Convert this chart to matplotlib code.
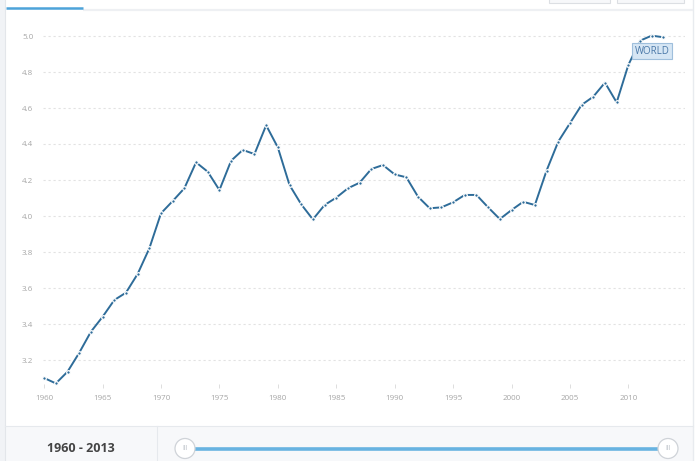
import matplotlib
matplotlib.use("Agg")
import matplotlib.pyplot as plt
from matplotlib.patches import Rectangle, Circle

plt.rcParams['font.family'] = ['Open Sans', 'DejaVu Sans']

years = list(range(1960, 2014))
values = [3.10, 3.07, 3.135, 3.24, 3.357, 3.44, 3.533, 3.574, 3.678, 3.82,
          4.015, 4.083, 4.154, 4.298, 4.246, 4.144, 4.307, 4.367, 4.344, 4.504,
          4.381, 4.172, 4.065, 3.981, 4.061, 4.102, 4.154, 4.185, 4.261, 4.283,
          4.231, 4.215, 4.107, 4.043, 4.048, 4.076, 4.117, 4.117, 4.048, 3.983,
          4.033, 4.079, 4.061, 4.252, 4.413, 4.515, 4.617, 4.663, 4.741, 4.631,
          4.839, 4.974, 5.002, 4.993]
yticks = [3.2, 3.4, 3.6, 3.8, 4.0, 4.2, 4.4, 4.6, 4.8, 5.0]
xticks = [1960, 1965, 1970, 1975, 1980, 1985, 1990, 1995, 2000, 2005, 2010]
series_label = "WORLD"
range_label = "1960 - 2013"

W, H = 699, 461
fig = plt.figure(figsize=(W / 100, H / 100), dpi=100)
fig.patch.set_facecolor('white')

# background decoration layer in pixel coordinates
bg = fig.add_axes([0, 0, 1, 1], zorder=0)
bg.set_xlim(0, W)
bg.set_ylim(H, 0)
bg.axis('off')
bg.add_patch(Rectangle((0, 0), 5, H, color='#f1f3f6', lw=0))
bg.plot([5, 5], [0, H], color='#e3e6ea', lw=0.8)
bg.plot([693, 693], [0, H], color='#e8ebef', lw=1.0)
bg.plot([83, 693], [10, 10], color='#eef0f3', lw=1.6, solid_capstyle='butt')
bg.plot([6, 83], [8.5, 8.5], color='#4da3d9', lw=1.8, solid_capstyle='butt')
for x0, x1 in [(549, 610), (617, 684)]:
    bg.add_patch(Rectangle((x0, -5), x1 - x0, 8, facecolor='#f7f8fa',
                           edgecolor='#dcdfe3', lw=0.8))
bg.add_patch(Rectangle((5, 426), 688, 40, facecolor='#f7f8fa', lw=0))
bg.plot([5, 693], [426, 426], color='#e6e9ed', lw=0.8)
bg.plot([157, 157], [426, H], color='#e6e9ed', lw=0.8)
bg.text(81, 448, range_label, ha='center', va='center', fontsize=9,
        fontweight='bold', color='#444444')
bg.plot([190, 664], [448.5, 448.5], color='#68b3e1', lw=2.6, solid_capstyle='butt')
for cx in [185, 668]:
    bg.add_patch(Circle((cx, 448.5), 10, facecolor='white', edgecolor='#cfd3d8', lw=0.9, zorder=5))
    bg.text(cx, 448.5, 'III', ha='center', va='center', fontsize=5,
            color='#bfc4ca', zorder=6)

# main chart axes
left, right, top, bottom = 43, 685, 28, 384
ax = fig.add_axes([left / W, 1 - bottom / H, (right - left) / W, (bottom - top) / H], zorder=2)
ax.patch.set_alpha(0)
ax.set_xlim(1959.9, 2014.85)
ax.set_ylim(5.0 - (bottom - 36) / 180.0, 5.0 + (36 - top) / 180.0)

ax.plot(years, values, color='#2e6c99', lw=1.4, marker='o', ms=2.6,
        mfc='#2e6c99', mec='white', mew=0.9, zorder=3, clip_on=False)

ax.set_yticks(yticks)
ax.set_yticklabels([f"{v:.1f}" for v in yticks])
ax.set_xticks(xticks)
ax.set_xticklabels([str(v) for v in xticks])
ax.grid(axis='y', color='#e2e2e2', linestyle=(0, (2, 2.5)), lw=0.8)
ax.grid(axis='x', visible=False)
for s in ax.spines.values():
    s.set_visible(False)
ax.tick_params(axis='y', length=0, pad=7, labelsize=5.8, labelcolor='#a6a6a6')
ax.tick_params(axis='x', length=3, width=0.6, color='#d8d8d8', pad=5,
               labelsize=5.8, labelcolor='#a6a6a6')

ax.text(0.949, 0.935, series_label, transform=ax.transAxes,
        ha='center', va='center', fontsize=7, color='#4a78a8', zorder=6,
        bbox=dict(boxstyle='square,pad=0.25', facecolor='#d6e6f4',
                  edgecolor='#9fbfdc', lw=0.8))

fig.savefig('out.png', dpi=100)
